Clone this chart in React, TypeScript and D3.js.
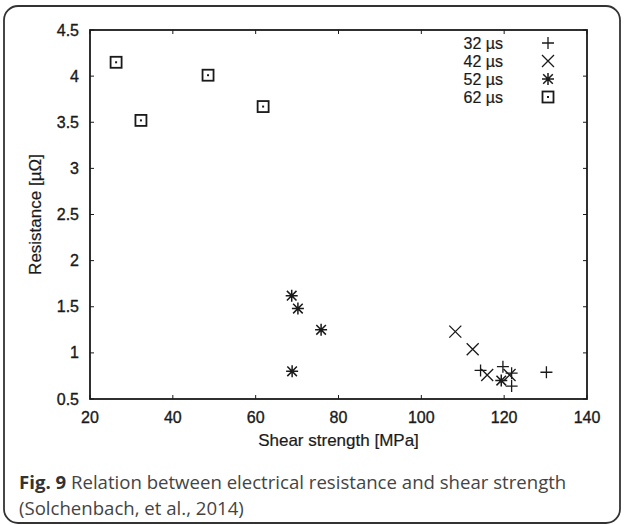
import React from "react";
import * as d3 from "d3";

const xTicks = [20, 40, 60, 80, 100, 120, 140];
const yTicks = [0.5, 1, 1.5, 2, 2.5, 3, 3.5, 4, 4.5];

const s32x = [114.3, 119.7, 121.8, 121.8, 130.2];
const s32y = [0.81, 0.85, 0.78, 0.64, 0.79];
const s42x = [108.2, 112.4, 115.9, 121.3];
const s42y = [1.23, 1.04, 0.76, 0.76];
const s52x = [68.7, 70.2, 75.8, 68.8, 119.3];
const s52y = [1.62, 1.48, 1.25, 0.8, 0.7];
const s62x = [26.3, 32.3, 48.5, 61.8];
const s62y = [4.15, 3.52, 4.01, 3.67];

const legendLabels = ["32 µs", "42 µs", "52 µs", "62 µs"];

const W = 624;
const H = 525;
const L = 90, R = 587, T = 30, B = 399;

const x = d3.scaleLinear().domain([20, 140]).range([L, R]);
const y = d3.scaleLinear().domain([0.5, 4.5]).range([B, T]);

const ink = "#1a1a1a";

function Marker({ kind, cx, cy }: { kind: number; cx: number; cy: number }) {
  const sw = 1.3;
  const h = 6;
  if (kind === 0) {
    return (
      <path d={`M${cx - h},${cy}H${cx + h}M${cx},${cy - h}V${cy + h}`} stroke={ink} strokeWidth={sw} fill="none" />
    );
  }
  if (kind === 1) {
    return (
      <path d={`M${cx - h},${cy - h}L${cx + h},${cy + h}M${cx - h},${cy + h}L${cx + h},${cy - h}`} stroke={ink} strokeWidth={sw} fill="none" />
    );
  }
  if (kind === 2) {
    const d = h * 0.8;
    return (
      <path
        d={`M${cx - h},${cy}H${cx + h}M${cx},${cy - h}V${cy + h}M${cx - d},${cy - d}L${cx + d},${cy + d}M${cx - d},${cy + d}L${cx + d},${cy - d}`}
        stroke={ink}
        strokeWidth={sw + 0.2}
        fill="none"
      />
    );
  }
  const s = 5.5;
  return (
    <g>
      <rect x={cx - s} y={cy - s} width={2 * s} height={2 * s} stroke={ink} strokeWidth={1.8} fill="white" />
      <rect x={cx - 1} y={cy - 1} width={2} height={2} fill={ink} />
    </g>
  );
}

export default function App() {
  const series = [
    { xs: s32x, ys: s32y },
    { xs: s42x, ys: s42y },
    { xs: s52x, ys: s52y },
    { xs: s62x, ys: s62y },
  ];
  const font = "'Liberation Sans', Arial, sans-serif";
  const tickStyle = { stroke: ink, strokeWidth: 0.35 };
  return (
    <svg width={W} height={H} style={{ position: "absolute", left: 0, top: 0 }}>
      <rect x={0} y={0} width={W} height={H} fill="white" />
      <rect x={4} y={6} width={616} height={517} rx={14} ry={14} fill="none" stroke="#333" strokeWidth={1.8} />
      {xTicks.map((t) => (
        <g key={"xt" + t}>
          <line x1={x(t)} x2={x(t)} y1={B} y2={B - 4} stroke={ink} strokeWidth={1} />
          <line x1={x(t)} x2={x(t)} y1={T} y2={T + 4} stroke={ink} strokeWidth={1} />
          <text x={x(t)} y={423} textAnchor="middle" fontFamily={font} fontSize={16} fill={ink} {...tickStyle}>
            {t}
          </text>
        </g>
      ))}
      {yTicks.map((t) => (
        <g key={"yt" + t}>
          <line x1={L} x2={L + 4} y1={y(t)} y2={y(t)} stroke={ink} strokeWidth={1} />
          <line x1={R} x2={R - 4} y1={y(t)} y2={y(t)} stroke={ink} strokeWidth={1} />
          <text x={79} y={y(t) + 5.5} textAnchor="end" fontFamily={font} fontSize={16} fill={ink} {...tickStyle}>
            {t}
          </text>
        </g>
      ))}
      <rect x={L} y={T} width={R - L} height={B - T} fill="none" stroke={ink} strokeWidth={1.8} />
      <text x={(L + R) / 2} y={446} textAnchor="middle" fontFamily={font} fontSize={17} fill={ink} stroke={ink} strokeWidth={0.2}>
        Shear strength [MPa]
      </text>
      <text
        transform={`translate(41,${(T + B) / 2}) rotate(-90)`}
        textAnchor="middle"
        fontFamily={font}
        fontSize={17}
        fill={ink}
        stroke={ink}
        strokeWidth={0.2}
      >
        Resistance [µΩ]
      </text>
      {series.map((s, k) =>
        s.xs.map((v, i) => <Marker key={`p${k}-${i}`} kind={k} cx={x(v)} cy={y(s.ys[i])} />)
      )}
      {legendLabels.map((lab, i) => (
        <g key={"lg" + i}>
          <text x={503} y={49 + i * 18} textAnchor="end" fontFamily={font} fontSize={16} fill={ink} stroke={ink} strokeWidth={0.2}>
            {lab}
          </text>
          <Marker kind={i} cx={548} cy={43 + i * 18} />
        </g>
      ))}
      <text x={19} y={489} fontFamily="'Open Sans', sans-serif" fontSize={18.6} fill="#444">
        <tspan fontWeight="bold" fill="#333">Fig. 9</tspan>
        <tspan> Relation between electrical resistance and shear strength</tspan>
      </text>
      <text x={19} y={515} fontFamily="'Open Sans', sans-serif" fontSize={18.6} fill="#444">
        (Solchenbach, et al., 2014)
      </text>
    </svg>
  );
}
